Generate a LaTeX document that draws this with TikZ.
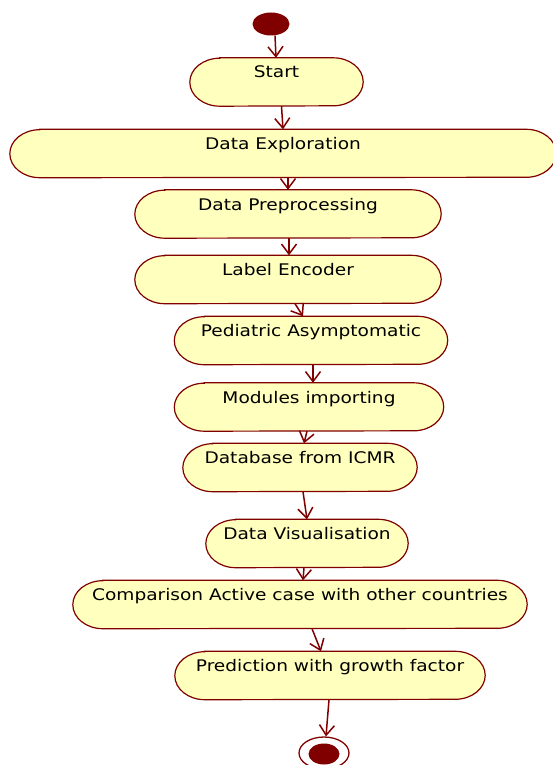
\documentclass[tikz,border=0pt]{standalone}
\usepackage{fontspec}
\setmainfont{DejaVu Sans}[FakeStretch=1.16]
\usetikzlibrary{arrows.meta,shapes.geometric,backgrounds}
\definecolor{umlred}{RGB}{128,0,0}
\definecolor{umlyel}{RGB}{255,255,190}
\tikzset{
  act/.style={rectangle, draw=none,
    inner xsep=0pt, inner ysep=0pt, minimum height=48pt, text height=20pt, text depth=28pt,
    font=\fontsize{16}{19}\selectfont, text=black},
  actbg/.style={draw=umlred, fill=umlyel, line width=1.2pt},
  flow/.style={draw=umlred, line width=1.5pt, -{Straight Barb[length=10pt,width=15pt,line width=1.5pt]}},
  initst/.style={ellipse, fill=umlred, draw=none, minimum width=37pt, minimum height=23pt, inner sep=0pt},
  finring/.style={ellipse, draw=umlred, line width=1.3pt, fill=white, minimum width=50pt, minimum height=32pt, inner sep=0pt},
  finin/.style={ellipse, fill=umlred, draw=none, minimum width=31pt, minimum height=21pt, inner sep=0pt}
}
\newcommand\actoutline[1]{%
  \path[actbg] ([xshift=30pt]#1.north west) -- ([xshift=-30pt]#1.north east)
    arc[start angle=90, end angle=-90, x radius=30pt, y radius=24pt]
    -- ([xshift=30pt]#1.south west)
    arc[start angle=270, end angle=90, x radius=30pt, y radius=24pt] -- cycle;}
\begin{document}
\begin{tikzpicture}[x=1pt,y=-1pt]
\useasboundingbox (0,0) rectangle (553,765);
\node[initst] (init) at (271,24) {};
\node[act, minimum width=173pt] (start) at (276.5,82) {Start};
\node[act, minimum width=546pt] (de) at (283,153.5) {Data Exploration};
\node[act, minimum width=306pt] (pre) at (288,214) {Data Preprocessing};
\node[act, minimum width=306pt] (lab) at (288,279.5) {Label Encoder};
\node[act, minimum width=273pt] (ped) at (311,340.5) {Pediatric Asymptomatic};
\node[act, minimum width=269pt] (mod) at (309,407) {Modules importing};
\node[act, minimum width=234pt] (db) at (300,467.5) {Database from ICMR};
\node[act, minimum width=202pt] (vis) at (307,543.5) {Data Visualisation};
\node[act, minimum width=454pt] (comp) at (300,604.5) {Comparison Active case with other countries};
\node[act, minimum width=310pt] (pred) at (330,675.5) {Prediction with growth factor};
\node[finring] (fin) at (324,753) {};
\node[finin] (fininner) at (324,754) {};
\begin{scope}[on background layer]
  \foreach \n in {start,de,pre,lab,ped,mod,db,vis,comp,pred} {\actoutline{\n}}
\end{scope}
\draw[flow] ([xshift=4pt]init.south) -- ([xshift=-0.5pt]start.north);
\draw[flow] ([xshift=5pt]start.south) -- (de.north);
\draw[flow] ([xshift=5pt]de.south) -- (pre.north);
\draw[flow] ([xshift=1pt]pre.south) -- ([xshift=1pt]lab.north);
\draw[flow] ([xshift=7pt]lab.south) -- ([xshift=-8pt]ped.north);
\draw[flow] ([xshift=2pt]ped.south) -- ([xshift=4pt]mod.north);
\draw[flow] ([xshift=-2pt]mod.south) -- ([xshift=4pt]db.north);
\draw[flow] ([xshift=3pt]db.south) -- (vis.north);
\draw[flow] ([xshift=-3pt]vis.south) -- ([xshift=3pt]comp.north);
\draw[flow] ([xshift=12pt]comp.south) -- ([xshift=-9pt]pred.north);
\draw[flow] ([xshift=-1pt]pred.south) -- ([xshift=2pt]fin.north);
\end{tikzpicture}
\end{document}
